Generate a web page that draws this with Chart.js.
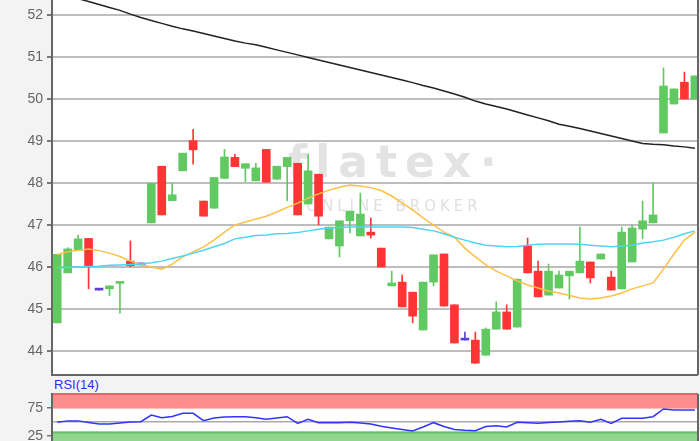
<!DOCTYPE html>
<html><head><meta charset="utf-8">
<script src="https://cdn.jsdelivr.net/npm/chart.js@4.4.0/dist/chart.umd.min.js"></script>
<style>
html,body{margin:0;padding:0;background:#f3f3f3;width:700px;height:441px;overflow:hidden;}
#main{position:absolute;left:0;top:0;width:700px;height:376px;}
#rsiWrap{position:absolute;left:0;top:392px;width:700px;height:62px;}
#rsiLabel{position:absolute;left:54px;top:377px;font:13px "Liberation Sans",Arial,sans-serif;color:#2b2bff;}
</style></head><body>
<div id="main"><canvas id="c1"></canvas></div>
<div id="rsiLabel">RSI(14)</div>
<div id="rsiWrap"><canvas id="c2"></canvas></div>
<script>
// ---- data ----
const open  = [44.67,45.86,46.40,46.68,45.45,45.48,45.61,46.14,46.05,47.05,48.40,47.58,48.29,49.01,47.57,47.40,48.11,48.61,48.35,48.05,48.80,48.09,48.39,48.47,47.50,48.21,46.67,46.50,47.10,46.74,46.83,46.45,45.55,45.64,45.40,44.50,45.64,46.31,45.10,44.26,44.26,43.90,44.52,44.93,44.57,46.50,45.90,45.33,45.50,45.79,45.86,46.12,46.19,45.76,45.48,46.12,46.90,47.05,49.19,49.88,50.40,50.00];
const high  = [46.30,46.46,46.76,46.68,45.45,45.55,45.65,46.62,46.05,47.99,48.40,47.99,48.71,49.28,47.57,48.13,48.80,48.68,48.46,48.47,48.80,48.40,48.61,48.47,48.69,48.21,46.95,47.10,47.33,47.76,47.17,46.45,45.90,45.81,45.40,45.64,46.29,46.31,45.10,44.45,44.45,44.55,45.17,45.10,45.71,46.69,46.14,46.07,45.90,45.90,46.95,46.12,46.31,45.90,46.95,47.00,47.57,48.00,50.74,50.24,50.64,50.55];
const low   = [44.67,45.86,46.40,45.48,45.45,45.32,44.90,46.00,46.05,47.05,47.24,47.58,48.29,48.45,47.21,47.40,48.11,48.39,48.03,48.05,48.02,48.09,47.58,47.24,47.50,47.00,46.67,46.24,46.81,46.74,46.69,46.00,45.55,45.05,44.67,44.50,45.55,45.07,44.19,44.26,43.71,43.90,44.52,44.52,44.57,45.86,45.29,45.33,45.50,45.24,45.86,45.62,46.19,45.45,45.48,46.12,46.67,47.05,49.19,49.88,50.00,50.00];
const close = [46.30,46.43,46.67,46.03,45.45,45.55,45.65,46.03,46.05,47.99,47.24,47.72,48.71,48.79,47.21,48.13,48.62,48.39,48.46,48.36,48.02,48.40,48.61,47.24,48.29,47.21,46.95,47.10,47.33,47.26,46.76,46.00,45.62,45.05,44.83,45.64,46.29,45.07,44.19,44.26,43.71,44.52,44.93,44.52,45.71,45.86,45.29,45.90,45.81,45.90,46.14,45.74,46.31,45.45,46.83,46.93,47.10,47.24,50.31,50.24,50.00,50.55];
const maLong  = [52.55,52.48,52.39,52.32,52.25,52.18,52.11,52.02,51.94,51.87,51.80,51.73,51.67,51.62,51.56,51.50,51.44,51.38,51.33,51.29,51.23,51.17,51.11,51.05,50.99,50.93,50.87,50.81,50.75,50.69,50.63,50.57,50.51,50.45,50.39,50.32,50.26,50.19,50.12,50.04,49.95,49.88,49.82,49.76,49.69,49.62,49.55,49.48,49.40,49.35,49.30,49.24,49.18,49.12,49.06,49.00,48.94,48.92,48.91,48.88,48.86,48.83];
const maMid   = [45.98,45.99,46.00,46.01,46.02,46.04,46.05,46.06,46.07,46.10,46.14,46.20,46.26,46.33,46.40,46.48,46.56,46.67,46.71,46.75,46.76,46.79,46.80,46.82,46.86,46.90,46.93,46.94,46.95,46.95,46.95,46.95,46.95,46.95,46.94,46.90,46.86,46.79,46.71,46.64,46.57,46.52,46.50,46.48,46.49,46.52,46.54,46.55,46.55,46.55,46.54,46.52,46.50,46.48,46.50,46.52,46.57,46.60,46.64,46.71,46.79,46.86];
const maShort = [46.30,46.36,46.40,46.43,46.39,46.33,46.25,46.14,46.06,46.00,45.95,46.07,46.24,46.36,46.48,46.64,46.83,47.00,47.07,47.14,47.21,47.31,47.42,47.52,47.64,47.74,47.83,47.90,47.95,47.93,47.89,47.82,47.69,47.52,47.36,47.17,47.00,46.83,46.71,46.45,46.24,46.05,45.90,45.79,45.67,45.57,45.50,45.43,45.38,45.32,45.26,45.24,45.26,45.31,45.38,45.48,45.55,45.62,45.95,46.31,46.64,46.83];
const rsi = [49.5,52,52,49,46.4,46.4,48,50,50.5,62.5,57.7,60,65.5,65.5,52.4,57,59,59.5,59.5,57.5,54.8,57,59.5,47.6,54.8,48.8,48.8,48.8,49.5,48.2,46.4,42.3,39.3,36.6,34,41,48.8,42,36.6,35.2,34.3,42,43.4,41,49.5,48.6,47.6,49,50,51.4,52.4,49.5,54.8,47.6,56.6,56.6,56.6,59.5,73.2,71.4,71.4,71.4];
const priceTicks = [44,45,46,47,48,49,50,51,52];
const rsiTicks = [25,50,75];
const rsiBands = {upper:74, lower:33};

// ---- styles ----
const GREEN='#62c962', RED='#ff3434', DOJI='#6040d4';
const FONT='"Liberation Sans", Arial, sans-serif';
const idx = open.map((_,i)=>i+1);
const colorOf = i => close[i]>open[i]?GREEN:(close[i]<open[i]?RED:DOJI);
const colors = idx.map((_,i)=>colorOf(i));
const xy = arr => arr.map((v,i)=>({x:i+1,y:v}));

const bgPlugin = {
  id:'bg',
  beforeDraw(chart, args, opts){
    const {ctx, chartArea:a} = chart;
    ctx.save();
    ctx.fillStyle='#ffffff';
    ctx.fillRect(a.left, a.top, a.right-a.left, a.bottom-a.top);
    if (opts.watermark){
      ctx.fillStyle='#e3e3e3';
      ctx.font='bold 44px "DejaVu Sans", sans-serif';
      ctx.textBaseline='alphabetic';
      ctx.textAlign='left';
      ctx.letterSpacing='8px';
      ctx.fillText('flatex', 288, 177);
      ctx.letterSpacing='0px';
      ctx.fillText('·', 480, 177);
      ctx.fillStyle='#e0e0e0';
      ctx.font='15px "DejaVu Sans", sans-serif';
      ctx.letterSpacing='4px';
      ctx.textAlign='center';
      ctx.textBaseline='middle';
      ctx.fillText('ONLINE BROKER', 394, 207);
    }
    if (opts.bands){
      const y = chart.scales.y;
      const yu = y.getPixelForValue(rsiBands.upper), yt = y.getPixelForValue(100);
      const yl = y.getPixelForValue(rsiBands.lower), yb = y.getPixelForValue(0);
      ctx.fillStyle='#ff8c8c';
      ctx.fillRect(a.left, yt, a.right-a.left, yu-yt);
      ctx.fillStyle='#d86a6a';
      ctx.fillRect(a.left, yt-1, a.right-a.left, 2);
      ctx.fillStyle='#8fd68f';
      ctx.fillRect(a.left, yl, a.right-a.left, yb-yl);
      ctx.fillStyle='#68c068';
      ctx.fillRect(a.left, yl, a.right-a.left, 2);
    }
    ctx.restore();
  },
  afterDraw(chart, args, opts){
    const {ctx, chartArea:a} = chart;
    ctx.save();
    ctx.strokeStyle='#666';
    ctx.lineWidth=2;
    ctx.beginPath();
    if (opts.bottom){ ctx.moveTo(a.left, a.bottom); ctx.lineTo(a.right, a.bottom); }
    ctx.moveTo(a.right, a.top); ctx.lineTo(a.right, a.bottom);
    ctx.stroke();
    ctx.restore();
  }
};

const xScale = {type:'linear', min:0.5, max:62.3, display:false, offset:false, grid:{offset:false}};
function yAxisFit(s){ s.width=52; s.paddingTop=0; s.paddingBottom=0; }

new Chart(document.getElementById('c1'), {
  type:'bar',
  data:{ datasets:[
    {type:'line', data:xy(maLong), borderColor:'#222', borderWidth:1.5, pointRadius:0, order:0},
    {type:'line', data:xy(maMid), borderColor:'#4fd3f7', borderWidth:1.5, pointRadius:0, order:0},
    {type:'line', data:xy(maShort), borderColor:'#ffbf47', borderWidth:1.5, pointRadius:0, order:0},
    {data:idx.map((x,i)=>({x, y:[open[i], close[i]]})), backgroundColor:colors, barThickness:8, minBarLength:2, grouped:false, borderWidth:0, order:1},
    {data:idx.map((x,i)=>({x, y:[low[i], high[i]]})), backgroundColor:colors, barThickness:1, grouped:false, borderWidth:0, order:2}
  ]},
  options:{
    responsive:true, maintainAspectRatio:false, animation:false,
    layout:{padding:{left:0,right:2,top:0,bottom:1}},
    plugins:{legend:{display:false}, tooltip:{enabled:false}, bg:{watermark:true, bottom:true}},
    scales:{
      x:xScale,
      y:{min:43.4286, max:52.357, beginAtZero:false,
         afterBuildTicks:s=>{s.ticks=priceTicks.map(v=>({value:v}));},
         afterFit:yAxisFit,
         ticks:{color:'#666', font:{family:FONT, size:14}, padding:4},
         grid:{color:'#bdbdbd', lineWidth:2, tickLength:5, tickColor:'#777', drawTicks:true},
         border:{color:'#666', width:2}}
    }
  },
  plugins:[bgPlugin]
});

new Chart(document.getElementById('c2'), {
  type:'line',
  data:{ datasets:[
    {data:xy(rsi), borderColor:'#3333ff', borderWidth:1.5, pointRadius:0}
  ]},
  options:{
    responsive:true, maintainAspectRatio:false, animation:false,
    layout:{padding:{left:0,right:2,top:2,bottom:4}},
    plugins:{legend:{display:false}, tooltip:{enabled:false}, bg:{bands:true}},
    scales:{
      x:xScale,
      y:{min:0, max:100,
         afterBuildTicks:s=>{s.ticks=rsiTicks.map(v=>({value:v}));},
         afterFit:yAxisFit,
         ticks:{color:'#666', font:{family:FONT, size:14}, padding:4, callback:v=>v===50?'':v},
         grid:{color:c=>c.tick && c.tick.value===50?'#aaaaaa':'rgba(0,0,0,0)', lineWidth:1.5, tickLength:5,
               tickColor:c=>c.tick && c.tick.value===50?'rgba(0,0,0,0)':'#777'},
         border:{color:'#666', width:2}}
    }
  },
  plugins:[bgPlugin]
});
</script>
</body></html>
